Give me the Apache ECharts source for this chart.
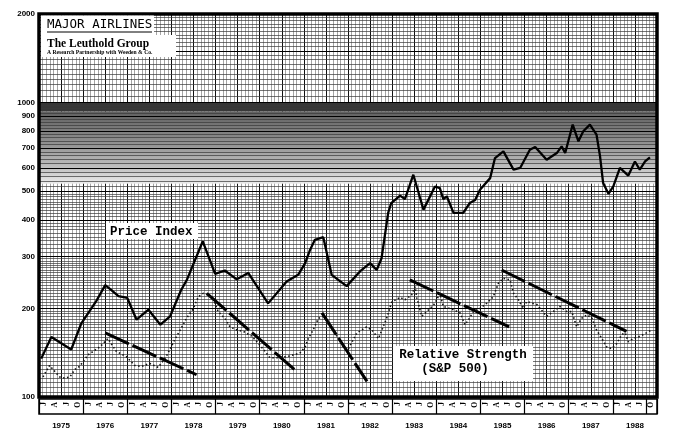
<!DOCTYPE html>
<html><head><meta charset="utf-8">
<script src="https://cdn.jsdelivr.net/npm/echarts@6/dist/echarts.min.js"></script>
<style>html,body{margin:0;padding:0;background:#fff}#c{width:680px;height:437px}</style>
</head><body><div id="c"></div>
<script>
// ---- data ----
const years = ['1975','1976','1977','1978','1979','1980','1981','1982','1983','1984','1985','1986','1987','1988'];
const quarterMarks = ['J','A','J','O'];
const yTickLabels = [100,200,300,400,500,600,700,800,900,1000,2000];

const priceDates = [1975.05,1975.28,1975.73,1975.96,1976.30,1976.50,1976.62,1976.80,1977.00,1977.21,1977.48,1977.75,1977.97,1978.22,1978.35,1978.71,1978.99,1979.21,1979.48,1979.74,1980.19,1980.61,1980.87,1981.03,1981.14,1981.25,1981.44,1981.63,1981.97,1982.27,1982.50,1982.65,1982.76,1982.91,1982.98,1983.18,1983.29,1983.48,1983.71,1983.97,1984.08,1984.16,1984.24,1984.39,1984.61,1984.76,1984.88,1984.99,1985.22,1985.33,1985.52,1985.75,1985.90,1986.12,1986.24,1986.50,1986.73,1986.84,1986.92,1987.09,1987.22,1987.33,1987.48,1987.63,1987.71,1987.78,1987.90,1988.01,1988.16,1988.35,1988.50,1988.61,1988.73,1988.84];
const priceValues = [135,160,145,178,212,240,232,220,217,183,198,176,188,231,250,338,262,269,251,264,208,247,260,285,316,342,349,260,238,267,285,270,296,422,456,483,470,569,433,519,512,470,480,422,422,456,467,506,554,648,683,592,600,692,707,640,674,710,674,842,739,799,842,778,657,533,490,519,600,565,631,592,631,652];

const rsDates = [1975.09,1975.24,1975.36,1975.47,1975.58,1975.70,1975.81,1975.92,1976.11,1976.38,1976.56,1976.75,1976.98,1977.17,1977.32,1977.51,1977.70,1977.88,1978.07,1978.22,1978.34,1978.49,1978.61,1978.72,1978.84,1978.95,1979.06,1979.21,1979.33,1979.48,1979.63,1979.82,1979.97,1980.12,1980.23,1980.46,1980.69,1980.91,1981.03,1981.10,1981.21,1981.33,1981.44,1981.55,1981.67,1981.78,1981.89,1982.00,1982.20,1982.42,1982.54,1982.69,1982.88,1982.99,1983.18,1983.29,1983.44,1983.52,1983.56,1983.67,1983.86,1983.97,1984.08,1984.16,1984.39,1984.54,1984.65,1984.73,1984.84,1984.99,1985.14,1985.29,1985.41,1985.52,1985.67,1985.75,1985.86,1985.97,1986.05,1986.28,1986.50,1986.65,1986.80,1986.96,1987.07,1987.18,1987.29,1987.41,1987.52,1987.63,1987.75,1987.86,1987.97,1988.09,1988.20,1988.28,1988.35,1988.46,1988.58,1988.69,1988.88];
const rsValues = [117,128,122,117,116,117,124,127,139,148,158,143,137,128,127,130,126,137,156,171,185,199,219,225,222,214,195,185,173,169,167,161,152,143,136,136,138,141,148,158,169,185,188,180,169,158,148,145,165,173,169,158,186,210,218,214,222,237,217,188,200,208,225,203,198,193,176,183,195,200,208,219,244,253,250,225,214,200,211,206,188,195,203,195,195,173,185,190,186,169,158,148,146,152,163,165,154,158,160,163,169];

const trendADates = [1976.50, 1978.57], trendAValues = [165, 119];
const trendBDates = [1978.80, 1980.84], trendBValues = [225, 122];
const trendCDates = [1981.41, 1982.43], trendCValues = [193, 113];
const trendDDates = [1983.40, 1985.65], trendDValues = [250, 173];
const trendEDates = [1985.48, 1988.31], trendEValues = [270, 167];

// ---- grid-paper lines ----
const hMajor = [100,200,300,400,500,600,700,800,900,1000,1500,2000];
const hMinor = [];
for (let v = 104; v < 200; v += 4) hMinor.push(v);
for (let v = 205; v < 300; v += 5) hMinor.push(v);
for (let v = 310; v < 500; v += 10) if (v % 100) hMinor.push(v);
for (let v = 520; v < 1000; v += 20) if (v % 100) hMinor.push(v);
for (let v = 1050; v < 2000; v += 50) if (v !== 1500) hMinor.push(v);

const quarters = [];
years.forEach(() => quarterMarks.forEach(q => quarters.push(q)));

const zip = (a, b) => a.map((d, i) => [d, b[i]]);

const chart = echarts.init(document.getElementById('c'), null, {renderer: 'canvas'});

const trendStyle = {color: '#000', width: 3, type: [26, 4]};
function trend(d, v) {
  return {type: 'line', data: zip(d, v), symbol: 'none', z: 5, lineStyle: trendStyle, silent: true};
}

const option = {
  animation: false,
  backgroundColor: '#fff',
  grid: [
    {left: 39, right: 23, top: 14, bottom: 40, show: false},
    {left: 39, right: 23, top: 399, height: 15, show: true, borderColor: '#000', borderWidth: 1.5}
  ],
  xAxis: [
    {type: 'value', gridIndex: 0, min: 1975, max: 1989, interval: 0.5,
     axisLabel: {show: false}, axisLine: {show: false}, axisTick: {show: false},
     splitLine: {show: true, lineStyle: {color: '#111', width: 1}},
     minorTick: {show: false, splitNumber: 6},
     minorSplitLine: {show: true, lineStyle: {color: '#666', width: 0.6}}},
    {type: 'category', gridIndex: 0, data: years, position: 'bottom',
     axisLine: {show: false}, axisTick: {show: false}, splitLine: {show: false},
     axisLabel: {margin: 25, fontSize: 8, fontWeight: 'bold', color: '#000', fontFamily: 'Liberation Sans'}},
    {type: 'category', gridIndex: 1, data: quarters,
     axisLine: {show: false}, axisTick: {show: false},
     splitLine: {show: true, interval: 3, lineStyle: {color: '#000', width: 1.2}},
     axisLabel: {interval: 0, rotate: 90, margin: -12, fontSize: 7.5, fontWeight: 'bold', color: '#000', fontFamily: 'Liberation Serif'}}
  ],
  yAxis: [
    {type: 'log', logBase: 10, gridIndex: 0, min: 100, max: 2000,
     axisLine: {show: false}, axisTick: {show: false}, splitLine: {show: false},
     axisLabel: {customValues: yTickLabels, formatter: v => String(Math.round(v)), margin: 4, fontSize: 8, fontWeight: 'bold', color: '#000', fontFamily: 'Liberation Sans'}},
    {type: 'value', gridIndex: 1, show: false, min: 0, max: 1}
  ],
  series: [
    {type: 'line', data: [], xAxisIndex: 0, yAxisIndex: 0, z: 1, silent: true,
     markArea: {silent: true, data: [
       [{yAxis: 935, itemStyle: {color: '#363636'}}, {yAxis: 1000}],
       [{yAxis: 530, itemStyle: {color: new echarts.graphic.LinearGradient(0, 0, 0, 1, [
         {offset: 0, color: '#606060'}, {offset: 0.45, color: '#929292'}, {offset: 0.8, color: '#c4c4c4'}, {offset: 1, color: '#ececec'}])}}, {yAxis: 935}]
     ]}},
    {type: 'line', data: [], xAxisIndex: 0, yAxisIndex: 0, z: 2, silent: true,
     markLine: {silent: true, symbol: ['none', 'none'], label: {show: false},
       data: hMinor.map(v => ({yAxis: v, lineStyle: {color: '#3a3a3a', width: 0.7, type: 'solid'}}))
         .concat(hMajor.map(v => ({yAxis: v, lineStyle: {color: '#000', width: 1.2, type: 'solid'}})))}},
    trend(trendADates, trendAValues),
    trend(trendBDates, trendBValues),
    trend(trendCDates, trendCValues),
    trend(trendDDates, trendDValues),
    trend(trendEDates, trendEValues),
    {type: 'line', name: 'Relative Strength (S&P 500)', data: zip(rsDates, rsValues), symbol: 'none', z: 5, silent: true,
     lineStyle: {color: '#111', width: 1.6, type: [1.5, 2.5]}},
    {type: 'line', name: 'Price Index', data: zip(priceDates, priceValues), symbol: 'none', z: 6, silent: true,
     lineStyle: {color: '#000', width: 2.3}}
  ],
  graphic: [
    {type: 'rect', z: 90, shape: {x: 39, y: 14, width: 618, height: 383}, style: {fill: 'none', stroke: '#000', lineWidth: 3.5}},
    {type: 'rect', z: 91, shape: {x: 41, y: 15.5, width: 113, height: 20}, style: {fill: '#fff'}},
    {type: 'rect', z: 91, shape: {x: 41, y: 35, width: 135, height: 22}, style: {fill: '#fff'}},
    {type: 'text', z: 92, x: 47, y: 18, style: {text: 'MAJOR AIRLINES', font: '12.5px "DejaVu Sans Mono"', fill: '#000'}},
    {type: 'line', z: 92, shape: {x1: 47, y1: 32, x2: 152, y2: 32}, style: {stroke: '#000', lineWidth: 1}},
    {type: 'text', z: 92, x: 47, y: 38, style: {text: 'The Leuthold Group', font: 'bold 11.5px "Liberation Serif"', fill: '#000'}},
    {type: 'text', z: 92, x: 47, y: 50, style: {text: 'A Research Partnership with Weeden & Co.', font: 'bold 5.6px "Liberation Serif"', fill: '#000'}},
    {type: 'rect', z: 91, shape: {x: 106, y: 223, width: 92, height: 16}, style: {fill: '#fff'}},
    {type: 'text', z: 92, x: 110, y: 225, style: {text: 'Price Index', font: 'bold 12.5px "Liberation Mono"', fill: '#000'}},
    {type: 'rect', z: 91, shape: {x: 393, y: 346, width: 140, height: 35}, style: {fill: '#fff'}},
    {type: 'text', z: 92, x: 463, y: 348, style: {text: 'Relative Strength', font: 'bold 12.5px "Liberation Mono"', fill: '#000', align: 'center'}},
    {type: 'text', z: 92, x: 455, y: 362, style: {text: '(S&P 500)', font: 'bold 12.5px "Liberation Mono"', fill: '#000', align: 'center'}}
  ]
};
chart.setOption(option);
</script>
</body></html>
